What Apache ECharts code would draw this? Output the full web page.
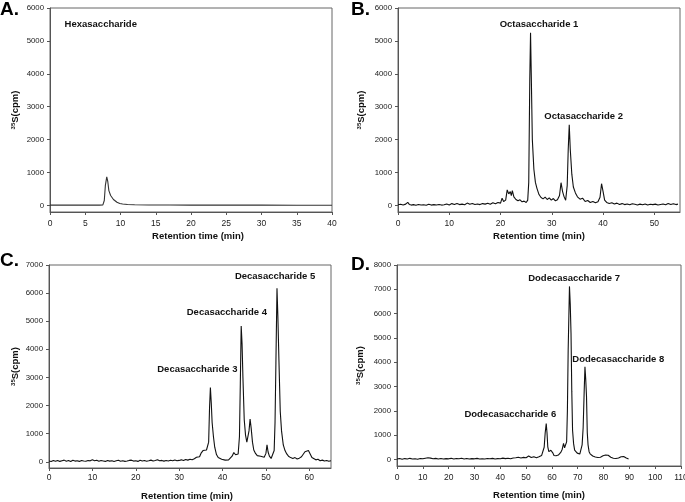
<!DOCTYPE html>
<html>
<head>
<meta charset="utf-8">
<script src="https://cdn.jsdelivr.net/npm/echarts@6/dist/echarts.min.js"></script>
<style>html,body{margin:0;padding:0;background:#fff}#c{width:685px;height:502px}</style>
</head>
<body>
<div id="c"></div>
<script>
// ---- Panel A: Hexasaccharide ----
const traceA = [[0,10],[2,12],[4,8],[6,10],[7,10],[7.5,15],[7.7,150],[7.85,600],[8.05,870],[8.2,720],[8.35,450],[8.6,300],[8.8,250],[9.0,180],[9.2,140],[9.5,95],[9.9,60],[10.3,45],[11,30],[12,20],[14,15],[17,12],[20,10],[25,8],[30,8],[35,6],[40,5]];
const xTicksA = [0,5,10,15,20,25,30,35,40];
const yTicksA = [0,1000,2000,3000,4000,5000,6000];
const labelsA = [{text:'Hexasaccharide', x:7.2, y:5510}];

// ---- Panel B: Octasaccharides ----
const traceB = [[0,20],[0.5,35],[1,15],[1.5,40],[1.9,95],[2.2,30],[2.6,10],[3,25],[3.5,5],[4,30],[4.5,15],[5,20],[5.5,5],[6,35],[6.5,10],[7,25],[7.5,15],[8,30],[8.5,10],[9,20],[9.5,45],[10,15],[10.5,55],[11,30],[11.5,60],[12,25],[12.5,40],[13,20],[13.5,70],[14,35],[14.5,60],[15,30],[15.5,45],[16,25],[16.5,55],[17,40],[17.5,65],[18,35],[18.5,80],[19,50],[19.5,90],[20,70],[20.3,220],[20.6,120],[21,160],[21.3,470],[21.6,350],[21.9,420],[22.1,300],[22.3,450],[22.6,260],[23,180],[23.4,140],[23.8,170],[24.2,110],[24.6,130],[25,90],[25.3,160],[25.5,700],[25.7,3800],[25.85,5250],[26.0,3900],[26.2,2000],[26.5,1100],[26.8,700],[27.1,520],[27.5,330],[27.9,240],[28.3,200],[28.7,250],[29.1,180],[29.5,230],[29.9,160],[30.3,210],[30.7,140],[31.1,170],[31.5,300],[31.8,690],[32.1,420],[32.4,260],[32.7,160],[33.0,600],[33.2,1700],[33.4,2450],[33.6,1700],[33.9,950],[34.2,560],[34.6,380],[35,260],[35.5,190],[36,220],[36.5,120],[37,150],[37.5,90],[38,120],[38.5,80],[39,110],[39.4,250],[39.7,660],[40,420],[40.3,160],[40.7,90],[41.2,60],[41.7,80],[42.2,40],[42.7,70],[43.2,30],[43.7,55],[44.2,25],[44.7,45],[45.2,20],[45.7,50],[46.2,35],[46.7,15],[47.2,40],[47.7,20],[48.2,45],[48.7,10],[49.2,35],[49.7,25],[50.2,40],[50.7,15],[51.2,30],[51.7,45],[52.2,20],[52.7,60],[53.2,30],[53.7,50],[54.2,25],[54.6,40]];
const xTicksB = [0,10,20,30,40,50];
const yTicksB = [0,1000,2000,3000,4000,5000,6000];
const labelsB = [{text:'Octasaccharide 1', x:27.5, y:5510},{text:'Octasaccharide 2', x:36.2, y:2700}];

// ---- Panel C: Decasaccharides ----
const traceC = [[0,30],[0.5,10],[1,45],[1.5,20],[2,50],[2.5,15],[3,40],[3.5,60],[4,20],[4.5,45],[5,10],[5.5,55],[6,25],[6.5,40],[7,15],[7.5,50],[8,30],[8.5,20],[9,45],[9.5,35],[10,70],[10.5,40],[11,55],[11.5,20],[12,45],[12.5,30],[13,15],[13.5,50],[14,25],[14.5,40],[15,10],[15.5,35],[16,55],[16.5,20],[17,40],[17.5,15],[18,30],[18.5,50],[19,60],[19.5,25],[20,40],[20.5,15],[21,55],[21.5,30],[22,45],[22.5,20],[23,35],[23.5,60],[24,30],[24.5,50],[25,75],[25.5,35],[26,50],[26.5,25],[27,45],[27.5,30],[28,55],[28.5,40],[29,65],[29.5,35],[30,50],[30.5,70],[31,45],[31.5,80],[32,60],[32.5,90],[33,75],[33.5,110],[34,160],[34.3,230],[34.7,180],[35.1,320],[35.5,400],[35.9,350],[36.3,420],[36.6,380],[36.8,700],[37.0,1900],[37.2,2640],[37.4,2100],[37.6,1400],[37.9,900],[38.2,520],[38.6,260],[39,150],[39.4,170],[39.8,90],[40.2,130],[40.6,60],[41,110],[41.4,70],[41.8,120],[42.2,200],[42.6,330],[43,250],[43.3,180],[43.6,280],[43.9,900],[44.1,2800],[44.3,4830],[44.5,4200],[44.7,3000],[45,1500],[45.3,950],[45.6,700],[45.9,650],[46.1,1100],[46.35,1520],[46.6,1200],[46.9,700],[47.2,420],[47.6,300],[48,220],[48.4,170],[48.8,200],[49.2,140],[49.6,160],[50,300],[50.25,600],[50.5,350],[50.8,200],[51.2,120],[51.6,150],[51.9,400],[52.1,1400],[52.3,3500],[52.55,6170],[52.75,5200],[53,3600],[53.3,1800],[53.6,1100],[54,600],[54.4,400],[54.8,280],[55.2,200],[55.7,150],[56.2,120],[56.7,150],[57.2,100],[57.7,130],[58.2,180],[58.6,250],[59,360],[59.4,430],[59.8,400],[60.2,280],[60.6,150],[61,100],[61.5,70],[62,90],[62.5,40],[63,60],[63.5,30],[64,50],[64.5,20],[65,40]];
const xTicksC = [0,10,20,30,40,50,60];
const yTicksC = [0,1000,2000,3000,4000,5000,6000,7000];
const labelsC = [{text:'Decasaccharide 5', x:52.1, y:6610},{text:'Decasaccharide 4', x:41.0, y:5330},{text:'Decasaccharide 3', x:34.2, y:3305}];

// ---- Panel D: Dodecasaccharides ----
const traceD = [[0,20],[1,40],[2,10],[3,35],[4,15],[5,45],[6,20],[7,30],[8,10],[9,40],[10,25],[11,50],[12,70],[12.5,40],[13,55],[14,30],[15,45],[16,20],[17,40],[18,15],[19,35],[20,25],[21,45],[22,15],[23,40],[24,30],[25,50],[26,20],[27,40],[28,15],[29,35],[30,25],[31,45],[32,20],[33,30],[34,15],[35,40],[36,25],[37,45],[38,20],[39,35],[40,30],[41,55],[42,35],[43,50],[44,30],[45,60],[46,70],[47,90],[48,60],[49,85],[50,70],[51,140],[51.5,90],[52,80],[53,110],[54,70],[55,110],[55.5,90],[56,160],[56.5,220],[57,500],[57.4,1100],[57.8,1480],[58.1,1100],[58.4,520],[58.8,320],[59.2,300],[59.6,380],[60,320],[60.4,260],[60.8,160],[61.2,120],[61.6,150],[62,110],[62.5,180],[63,220],[63.5,300],[64,420],[64.5,660],[64.9,480],[65.3,450],[65.7,720],[66,2000],[66.3,4500],[66.8,7120],[67.1,6400],[67.4,5200],[67.7,2800],[68,1200],[68.4,650],[68.8,380],[69.3,300],[69.8,260],[70.3,280],[70.8,220],[71.3,260],[71.7,600],[72.1,1300],[72.5,2800],[72.8,3810],[73.1,3300],[73.4,2600],[73.7,1100],[74,600],[74.4,320],[74.8,230],[75.3,170],[75.8,140],[76.3,120],[76.8,100],[77.3,90],[77.8,80],[78.3,110],[78.8,90],[79.3,120],[79.8,150],[80.3,130],[80.8,180],[81.3,140],[81.8,170],[82.3,120],[82.8,90],[83.3,70],[83.8,50],[84.3,60],[84.8,40],[85.3,70],[85.8,60],[86.3,90],[86.8,110],[87.3,100],[87.8,120],[88.3,80],[88.8,60],[89.3,40],[89.7,20]];
const xTicksD = [0,10,20,30,40,50,60,70,80,90,100,110];
const yTicksD = [0,1000,2000,3000,4000,5000,6000,7000,8000];
const labelsD = [{text:'Dodecasaccharide 7', x:68.6, y:7440},{text:'Dodecasaccharide 8', x:85.7, y:4110},{text:'Dodecasaccharide 6', x:43.9, y:1862}];

const FONT = "'Liberation Sans', Arial, sans-serif";

const panels = [
  {trace:traceA, xt:xTicksA, yt:yTicksA, labels:labelsA, xmax:40, ymin:-200, ymax:6000, grid:{left:50,top:8,width:282,height:204}, yGap:30, xGap:19, xPad:[0,0,0,14], xMargin:7, color:'#333'},
  {trace:traceB, xt:xTicksB, yt:yTicksB, labels:labelsB, xmax:55, ymin:-200, ymax:6000, grid:{left:398,top:8,width:282,height:204}, yGap:32, xGap:19, xPad:0, xMargin:7, color:'#111'},
  {trace:traceC, xt:xTicksC, yt:yTicksC, labels:labelsC, xmax:65, ymin:-220, ymax:7000, grid:{left:49,top:265,width:282,height:203}, yGap:29, xGap:23, xPad:[0,6,0,0], xMargin:5, color:'#111'},
  {trace:traceD, xt:xTicksD, yt:yTicksD, labels:labelsD, xmax:110, ymin:-270, ymax:8000, grid:{left:397,top:265,width:284,height:201}, yGap:32, xGap:24, xPad:0, xMargin:7, color:'#111'}
];

const grids = [], xAxes = [], yAxes = [], series = [];
panels.forEach((p, i) => {
  grids.push(Object.assign({show:true, borderColor:'#666', borderWidth:1, backgroundColor:'transparent', containLabel:false, outerBoundsMode:'none'}, p.grid));
  xAxes.push({
    type:'value', gridIndex:i, min:0, max:p.xmax,
    axisLine:{show:true, onZero:false, lineStyle:{color:'#555', width:1}},
    axisTick:{show:true, length:3, customValues:p.xt, lineStyle:{color:'#555'}},
    axisLabel:{customValues:p.xt, fontSize:8.5, color:'#222', margin:p.xMargin, fontFamily:FONT, formatter: v => String(v)},
    splitLine:{show:false},
    name:'Retention time (min)', nameLocation:'middle', nameGap:p.xGap,
    nameTextStyle:{fontSize:9.5, fontWeight:'bold', color:'#111', fontFamily:FONT, padding:p.xPad}
  });
  yAxes.push({
    type:'value', gridIndex:i, min:p.ymin, max:p.ymax,
    axisLine:{show:true, onZero:false, lineStyle:{color:'#555', width:1}},
    axisTick:{show:true, length:3, customValues:p.yt, lineStyle:{color:'#555'}},
    axisLabel:{customValues:p.yt, fontSize:7.8, color:'#222', margin:6, fontFamily:FONT, formatter: v => String(v)},
    splitLine:{show:false},
    name:'{sup|35}{b|S(cpm)}', nameLocation:'middle', nameGap:p.yGap, nameRotate:90,
    nameTextStyle:{color:'#111', fontFamily:FONT, rich:{
      sup:{fontSize:6, fontWeight:'bold', color:'#111', fontFamily:FONT, verticalAlign:'top'},
      b:{fontSize:9.5, fontWeight:'bold', color:'#111', fontFamily:FONT}
    }}
  });
  series.push({
    type:'line', xAxisIndex:i, yAxisIndex:i, data:p.trace, showSymbol:false, symbol:'none',
    lineStyle:{color:p.color, width:1.1}, animation:false, silent:true,
    markPoint:{
      symbol:'rect', symbolSize:0, silent:true, animation:false,
      itemStyle:{color:'transparent'},
      label:{show:true, position:'inside', color:'#111', fontSize:9.5, fontWeight:'bold', fontFamily:FONT,
        formatter: prm => prm.name},
      data:p.labels.map(l => ({name:l.text, coord:[l.x, l.y]}))
    }
  });
});

const letterStyle = {fontSize:19, fontWeight:'bold', fill:'#000', fontFamily:FONT};
const chart = echarts.init(document.getElementById('c'), null, {renderer:'canvas'});
chart.setOption({
  animation:false,
  backgroundColor:'#fff',
  grid:grids, xAxis:xAxes, yAxis:yAxes, series:series,
  graphic:[
    {type:'text', left:0, top:0, style:Object.assign({text:'A.'}, letterStyle)},
    {type:'text', left:351, top:0, style:Object.assign({text:'B.'}, letterStyle)},
    {type:'text', left:0, top:251, style:Object.assign({text:'C.'}, letterStyle)},
    {type:'text', left:351, top:255, style:Object.assign({text:'D.'}, letterStyle)}
  ]
});
</script>
</body>
</html>
